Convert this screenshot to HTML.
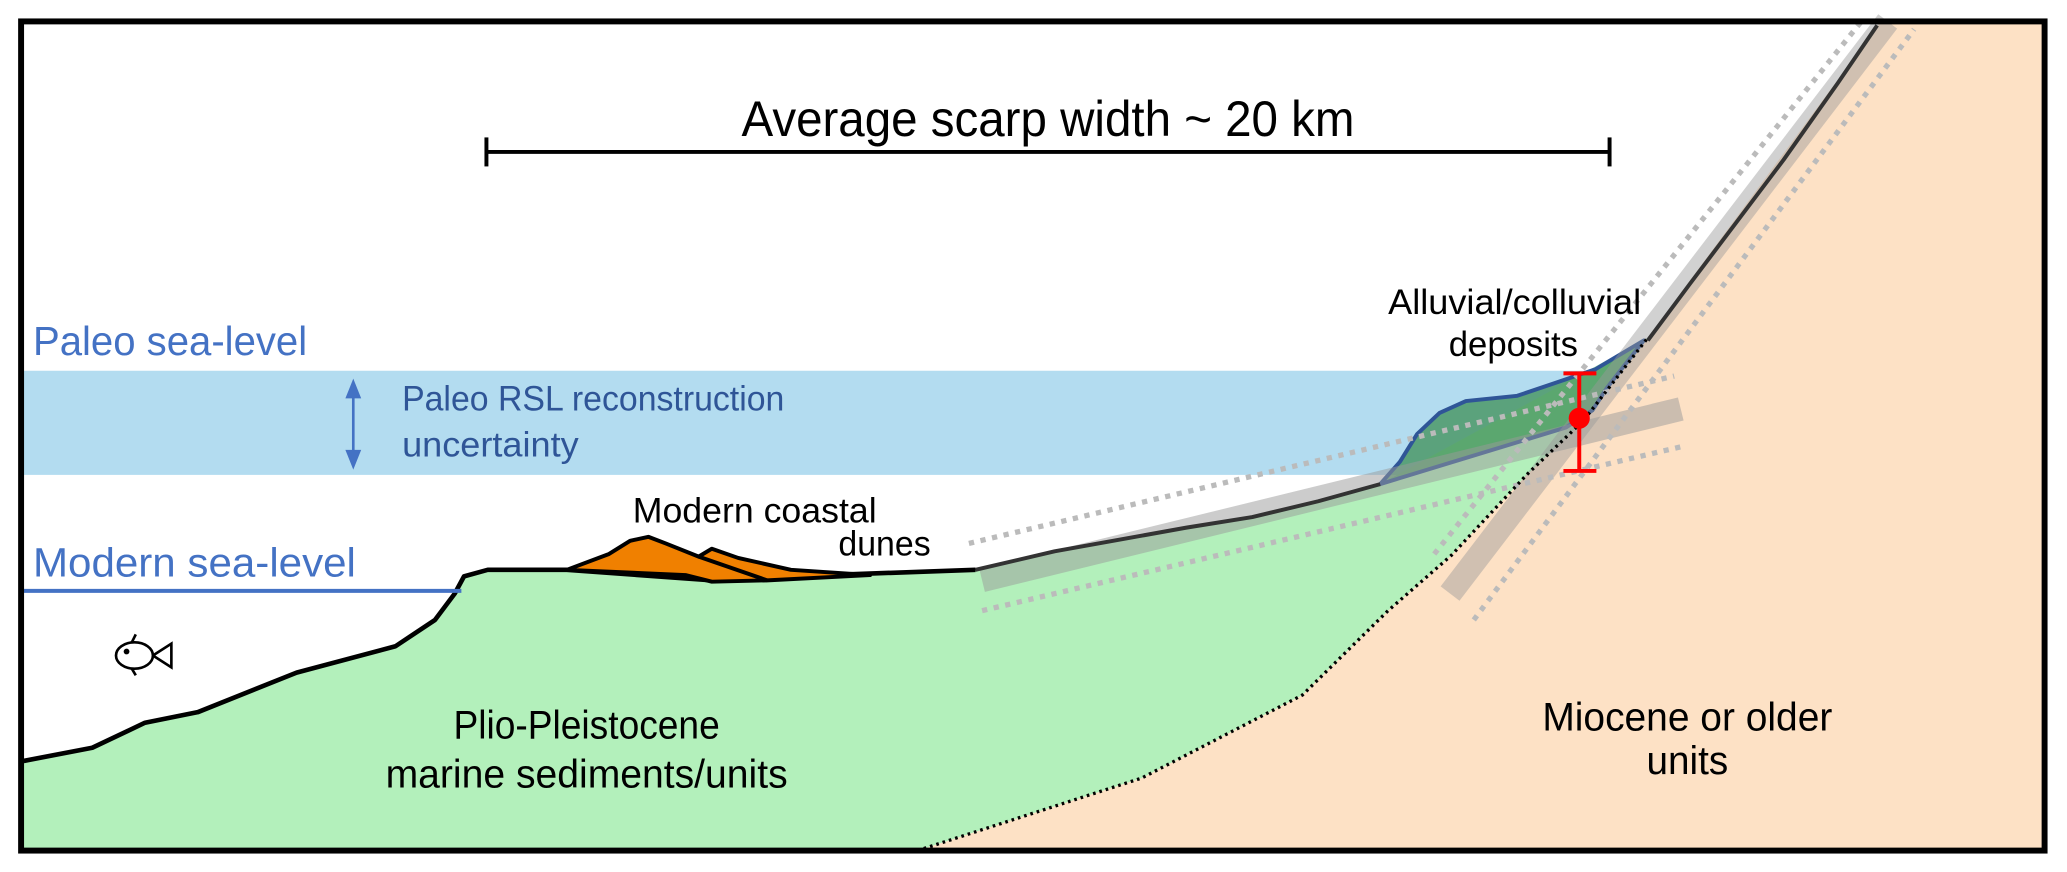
<!DOCTYPE html>
<html><head><meta charset="utf-8"><style>
html,body{margin:0;padding:0;background:#fff;}
svg{display:block;}
text{font-family:"Liberation Sans",sans-serif;}
</style></head><body>
<svg width="2067" height="872" viewBox="0 0 1568 661" xmlns="http://www.w3.org/2000/svg">
<rect x="0" y="0" width="1568" height="661" fill="#fff"/>
<rect x="18" y="281" width="1250" height="79" fill="#b3dcf0"/>
<polygon fill="#fde1c5" points="696,645 1550,645 1550,17 1426,17 1250,256 1201,319 1158,360 1101,421 1053,463 988,527 866,590"/>
<polygon fill="#b3f0bb" points="18,577 70,567 110,548 150,540 225,510 300,490 330,470 345,450 352,437 370,432 430,432 540,440 600,437 740,432 800,418 900,400 950,392 1000,380 1047,367 1250,256 1201,319 1158,360 1101,421 1053,463 988,527 866,590 696,645 18,645"/>
<polygon fill="#3d8f55" fill-opacity="0.75" stroke="#2f5597" stroke-width="3" stroke-linejoin="round" points="1047,367 1062,350 1075,329 1092,313 1112,304 1151,300 1210,280 1247,258 1219,294 1208,311 1188,324"/>
<g>
<line x1="745" y1="440" x2="1275" y2="310" stroke="#999" stroke-opacity="0.5" stroke-width="18"/>
<line x1="1100" y1="450" x2="1432" y2="16" stroke="#999" stroke-opacity="0.45" stroke-width="18"/>
<line x1="735" y1="412" x2="1270" y2="285" stroke="#bbb" stroke-width="4" stroke-dasharray="4,5"/>
<line x1="745" y1="463" x2="1278" y2="338" stroke="#bbb" stroke-width="4" stroke-dasharray="4,5"/>
<line x1="1088" y1="420" x2="1412" y2="16" stroke="#bbb" stroke-width="4" stroke-dasharray="4,5"/>
<line x1="1118" y1="470" x2="1452" y2="22" stroke="#bbb" stroke-width="4" stroke-dasharray="4,5"/>
</g>
<polyline fill="none" stroke="#000" stroke-width="2.5" stroke-dasharray="2,3" points="696,645 866,590 988,527 1053,463 1101,421 1158,360 1201,319 1250,256"/>
<polyline fill="none" stroke="#000" stroke-width="3.5" stroke-linejoin="round" points="18,577 70,567 110,548 150,540 225,510 300,490 330,470 345,450 352,437 370,432 430,432 540,440 600,437 740,432"/>
<polyline fill="none" stroke="#333" stroke-width="3" stroke-linejoin="round" points="740,432 800,418 900,400 950,392 1000,380 1047,367"/>
<polyline fill="none" stroke="#333" stroke-width="3" stroke-linejoin="round" points="1250,258 1282,215 1353,121 1394,63 1424,19"/>
<g>
<polygon fill="#f08000" stroke="#000" stroke-width="3" stroke-linejoin="round" points="430,432 462,420 478,410 492,407 505,412 530,422 540,416 560,423 600,432 660,436 582,440 540,441 520,436"/>
<line x1="530" y1="422" x2="582" y2="440" stroke="#000" stroke-width="3"/>
</g>
<line x1="18" y1="448" x2="350" y2="448" stroke="#4472c4" stroke-width="3"/>
<g>
<line x1="268" y1="295" x2="268" y2="348" stroke="#4472c4" stroke-width="2"/>
<polygon points="268,287 262,302 274,302" fill="#4472c4"/>
<polygon points="268,356 262,341 274,341" fill="#4472c4"/>
</g>
<g stroke="#f00" stroke-width="3">
<line x1="1198" y1="283" x2="1198" y2="357"/>
<line x1="1186" y1="283" x2="1211" y2="283"/>
<line x1="1186" y1="357" x2="1211" y2="357"/>
<circle cx="1198" cy="317" r="8" fill="#f00" stroke="none"/>
</g>
<g stroke="#000" stroke-width="3">
<line x1="369" y1="115" x2="1221" y2="115"/>
<line x1="369" y1="104" x2="369" y2="126"/>
<line x1="1221" y1="104" x2="1221" y2="126"/>
</g>
<g fill="none" stroke="#000" stroke-width="2">
<ellipse cx="102" cy="497" rx="14" ry="10"/>
<polyline points="116,497 130,488 130,506 116,497"/>
<circle cx="96" cy="494" r="1.2" fill="#000"/>
<path d="M100,487 l3,-6 M100,507 l3,5"/>
</g>
<text x="795" y="103" font-size="38" text-anchor="middle" fill="#000" textLength="465" lengthAdjust="spacingAndGlyphs">Average scarp width ~ 20 km</text>
<text x="25" y="269" font-size="31" fill="#4472c4" textLength="208" lengthAdjust="spacingAndGlyphs">Paleo sea-level</text>
<text x="25" y="437" font-size="31" fill="#4472c4" textLength="245" lengthAdjust="spacingAndGlyphs">Modern sea-level</text>
<text x="305" y="311" font-size="27" fill="#2f5597" textLength="290" lengthAdjust="spacingAndGlyphs">Paleo RSL reconstruction</text>
<text x="305" y="346" font-size="27" fill="#2f5597" textLength="134" lengthAdjust="spacingAndGlyphs">uncertainty</text>
<text x="480" y="396" font-size="27" fill="#000" textLength="185" lengthAdjust="spacingAndGlyphs">Modern coastal</text>
<text x="706" y="421" font-size="27" fill="#000" text-anchor="end" textLength="70" lengthAdjust="spacingAndGlyphs">dunes</text>
<text x="1053" y="238" font-size="27" fill="#000" textLength="192" lengthAdjust="spacingAndGlyphs">Alluvial/colluvial</text>
<text x="1148" y="270" font-size="27" fill="#000" text-anchor="middle" textLength="98" lengthAdjust="spacingAndGlyphs">deposits</text>
<text x="445" y="560" font-size="30" fill="#000" text-anchor="middle" textLength="202" lengthAdjust="spacingAndGlyphs">Plio-Pleistocene</text>
<text x="445" y="597" font-size="30" fill="#000" text-anchor="middle" textLength="305" lengthAdjust="spacingAndGlyphs">marine sediments/units</text>
<text x="1280" y="554" font-size="30" fill="#000" text-anchor="middle" textLength="220" lengthAdjust="spacingAndGlyphs">Miocene or older</text>
<text x="1280" y="587" font-size="30" fill="#000" text-anchor="middle" textLength="62" lengthAdjust="spacingAndGlyphs">units</text>
<rect x="16" y="16" width="1535" height="629" fill="none" stroke="#000" stroke-width="4.5"/>
</svg>
</body></html>
